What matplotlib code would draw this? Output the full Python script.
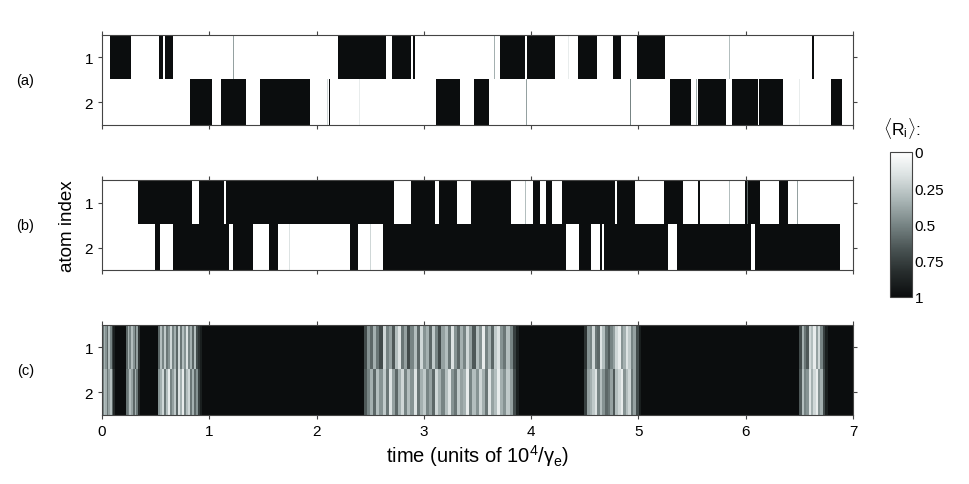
import numpy as np
import matplotlib
matplotlib.use("Agg")
import matplotlib.pyplot as plt
from matplotlib.colors import LinearSegmentedColormap

plt.rcParams['font.family'] = ['Liberation Sans', 'DejaVu Sans']
plt.rcParams['mathtext.fontset'] = 'custom'
plt.rcParams['mathtext.rm'] = 'Liberation Sans'
plt.rcParams['mathtext.it'] = 'Liberation Sans:italic'

# ---- data (time in units of 1e4/gamma_e) ----
t_max = 7.0
atoms = [1, 2]

# panel (a): base is bright (0), dark intervals -> 1
a_dark_1 = [(0.075, 0.267), (0.534, 0.571), (0.590, 0.658), (2.200, 2.644), (2.700, 2.883),
            (2.899, 2.921), (3.712, 3.939), (3.960, 4.221), (4.438, 4.615), (4.767, 4.839),
            (4.988, 5.249), (6.614, 6.636)]
a_dark_2 = [(0.819, 1.024), (1.108, 1.338), (1.474, 1.943), (2.113, 2.129), (3.116, 3.333),
            (3.464, 3.603), (5.298, 5.493), (5.552, 5.816), (5.872, 6.111), (6.123, 6.350),
            (6.797, 6.902)]
a_lines_1 = [(0.40, 0.1), (1.223, 0.4), (1.90, 0.08), (2.18, 0.15), (3.659, 0.35),
             (4.35, 0.1), (5.847, 0.3), (6.72, 0.08)]
a_lines_2 = [(0.596, 0.3), (2.10, 0.2), (2.40, 0.1), (3.681, 0.6), (3.954, 0.4),
             (4.429, 0.55), (4.925, 0.5), (5.54, 0.35), (6.50, 0.1)]

# panel (b): base is dark (1), bright intervals -> 0
b_bright_1 = [(0.0, 0.332), (0.838, 0.906), (1.133, 1.157), (2.722, 2.883), (3.107, 3.138),
              (3.312, 3.440), (3.808, 4.016), (4.085, 4.141), (4.196, 4.286), (4.786, 4.798),
              (4.969, 5.236), (5.413, 5.556), (5.577, 5.996), (6.136, 6.313), (6.390, 7.0)]
b_bright_2 = [(0.0, 0.493), (0.540, 0.664), (1.182, 1.217), (1.403, 1.555), (1.636, 2.309),
              (2.387, 2.619), (4.326, 4.444), (4.556, 4.643), (4.662, 4.683), (5.279, 5.357),
              (6.049, 6.083), (6.878, 7.0)]
b_lines_1 = [(3.88, 0.2), (3.95, 0.3), (5.85, 0.3), (6.018, 0.6), (6.03, 0.6), (6.48, 0.4)]
b_lines_2 = [(0.394, 0.35), (1.75, 0.15), (1.92, 0.2), (2.50, 0.2)]

# panel (c): base dark (1), bands of averaged values
c_bands = [(0.0, 0.121), (0.223, 0.354), (0.518, 0.928), (2.442, 3.886), (4.497, 5.025), (6.499, 6.763)]
c_vals_1 = [
    [0.55, 0.35, 0.45, 0.6, 0.3, 0.5, 0.75, 0.9],
    [0.6, 0.35, 0.5, 0.3, 0.45, 0.65, 0.4, 0.8],
    [0.6, 0.3, 0.5, 0.25, 0.55, 0.45, 0.2, 0.5, 0.35, 0.6, 0.2, 0.55, 0.3, 0.45, 0.15, 0.5,
     0.35, 0.6, 0.3, 0.7, 0.8, 0.9],
    [0.7, 0.45, 0.6, 0.35, 0.55, 0.7, 0.2, 0.5, 0.4, 0.65, 0.3, 0.15, 0.55, 0.4, 0.7, 0.5,
     0.3, 0.6, 0.2, 0.45, 0.35, 0.6, 0.25, 0.5, 0.7, 0.4, 0.3, 0.55, 0.15, 0.45, 0.6, 0.35,
     0.5, 0.2, 0.4, 0.65, 0.3, 0.45, 0.1, 0.5, 0.35, 0.6, 0.25, 0.15, 0.45, 0.55, 0.3, 0.5,
     0.75, 0.9],
    [0.8, 0.45, 0.5, 0.2, 0.55, 0.6, 0.15, 0.3, 0.55, 0.65, 0.5, 0.4, 0.2, 0.1, 0.45, 0.35,
     0.15, 0.25, 0.5, 0.4, 0.7, 0.9],
    [0.7, 0.35, 0.55, 0.65, 0.2, 0.3, 0.1, 0.4, 0.2, 0.5, 0.75, 0.9],
]
c_vals_2 = [
    [0.5, 0.3, 0.35, 0.55, 0.4, 0.3, 0.6, 0.85],
    [0.55, 0.5, 0.3, 0.4, 0.6, 0.35, 0.55, 0.85],
    [0.45, 0.35, 0.2, 0.55, 0.3, 0.1, 0.5, 0.4, 0.25, 0.6, 0.15, 0.35, 0.1, 0.5, 0.3, 0.2,
     0.55, 0.35, 0.6, 0.45, 0.75, 0.9],
    [0.65, 0.5, 0.35, 0.6, 0.3, 0.45, 0.25, 0.55, 0.15, 0.4, 0.6, 0.35, 0.2, 0.5, 0.3, 0.45,
     0.15, 0.55, 0.35, 0.25, 0.5, 0.4, 0.6, 0.2, 0.35, 0.5, 0.3, 0.15, 0.45, 0.55, 0.25, 0.4,
     0.35, 0.1, 0.5, 0.3, 0.45, 0.2, 0.35, 0.55, 0.15, 0.4, 0.3, 0.1, 0.35, 0.45, 0.25, 0.4,
     0.7, 0.9],
    [0.75, 0.4, 0.35, 0.25, 0.15, 0.5, 0.3, 0.45, 0.6, 0.55, 0.4, 0.65, 0.3, 0.2, 0.1, 0.45,
     0.3, 0.2, 0.55, 0.4, 0.7, 0.9],
    [0.65, 0.3, 0.5, 0.45, 0.15, 0.35, 0.2, 0.1, 0.45, 0.35, 0.7, 0.9],
]

panel_labels = ['(a)', '(b)', '(c)']
cbar_ticks = [0, 0.25, 0.5, 0.75, 1]

# ---- build grids ----
dt = 0.001
n = int(round(t_max / dt))
t = (np.arange(n) + 0.5) * dt


def row(base, segs, val, lines, lw=0.005):
    r = np.full(n, float(base))
    for s, e in segs:
        r[(t >= s) & (t < e)] = val
    for tc, v in lines:
        r[np.abs(t - tc) < lw / 2] = v
    return r


def band_row(bands, vals):
    r = np.ones(n)
    for (s, e), v in zip(bands, vals):
        edges = np.linspace(s, e, len(v) + 1)
        for i, x in enumerate(v):
            r[(t >= edges[i]) & (t < edges[i + 1])] = x
    return r


data_a = np.vstack([row(0, a_dark_1, 1, a_lines_1), row(0, a_dark_2, 1, a_lines_2)])
data_b = np.vstack([row(1, b_bright_1, 0, b_lines_1), row(1, b_bright_2, 0, b_lines_2)])
data_c = np.vstack([band_row(c_bands, c_vals_1), band_row(c_bands, c_vals_2)])

# grey map with a slight teal tint, white at 0 and near-black at 1
cmap = LinearSegmentedColormap.from_list(
    'greyteal', ['#ffffff', '#d9e0e0', '#a9b5b5', '#788585', '#4a5454', '#262c2c', '#0b0d0e'])

# ---- plot ----
fig = plt.figure(figsize=(9.69, 4.85), dpi=100)
bottoms = [0.7402, 0.4412, 0.1423]
frame_col = '#444444'

for k, (d, b) in enumerate(zip([data_a, data_b, data_c], bottoms)):
    ax = fig.add_axes([0.1053, b, 0.775, 0.1856])
    im = ax.imshow(d, aspect='auto', cmap=cmap, vmin=0, vmax=1,
                   extent=[0, t_max, 2.5, 0.5], interpolation='nearest')
    ax.set_xlim(0, t_max)
    ax.set_ylim(2.5, 0.5)
    ax.set_yticks(atoms)
    ax.set_xticks(range(0, 8))
    ax.tick_params(direction='out', length=3, width=0.8, color=frame_col,
                   top=True, right=True, labelsize=11)
    for sp in ax.spines.values():
        sp.set_color(frame_col)
        sp.set_linewidth(0.8)
    if k < 2:
        ax.set_xticklabels([])
    else:
        ax.set_xlabel('time (units of 10$^4$/γ$_\\mathrm{e}$)', fontsize=14.5, labelpad=3)
    if k == 1:
        ax.set_ylabel('atom index', fontsize=13.5, labelpad=6)
    fig.text(0.026, b + 0.0928, panel_labels[k], fontsize=10.5, ha='center', va='center')

cax = fig.add_axes([0.9185, 0.3856, 0.0224, 0.299])
cb = fig.colorbar(im, cax=cax, ticks=cbar_ticks)
cb.ax.invert_yaxis()
cb.ax.set_yticklabels(['0', '0.25', '0.5', '0.75', '1'])
cb.ax.tick_params(length=0, labelsize=11, pad=2)
cb.outline.set_edgecolor(frame_col)
cb.outline.set_linewidth(0.8)
fig.text(0.931, 0.735, r'$\langle$R$_\mathrm{i}$$\rangle$:', fontsize=12.5, ha='center', va='center')

fig.savefig('out.png', dpi=100)
